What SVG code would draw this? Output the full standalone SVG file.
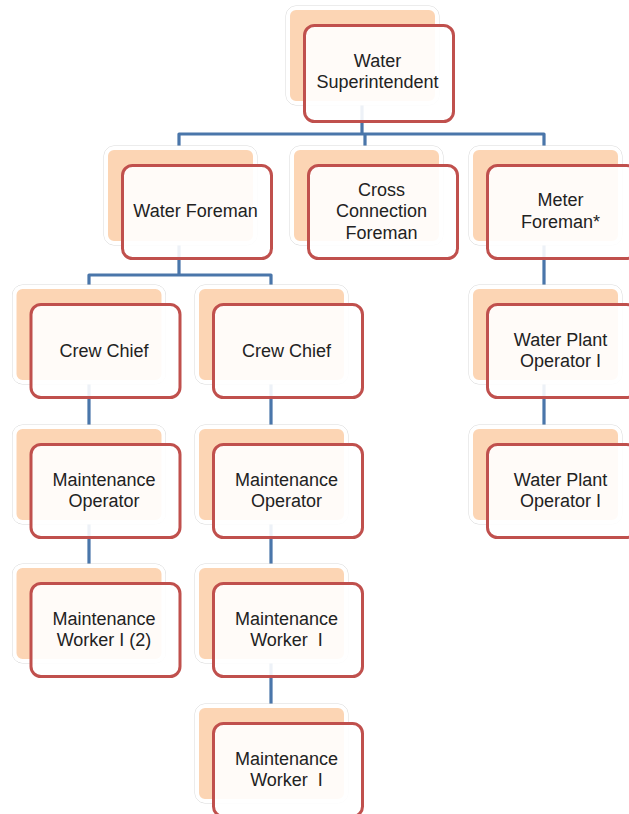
<svg xmlns="http://www.w3.org/2000/svg" width="629" height="814" viewBox="0 0 629 814">
  <style>
    .halo { fill: none; stroke: #d9d9d9; stroke-width: 1; }
    .back { fill: #fcd5b4; stroke: #ffffff; stroke-width: 4; }
    .front { fill: #ffffff; fill-opacity: 0.9; stroke: #c0504d; stroke-width: 3; }
    .label { font-family: "Liberation Sans", Arial, sans-serif; font-size: 18px; fill: #222222; text-anchor: middle; }
    .link { fill: none; stroke: #4a76aa; stroke-width: 3.2; stroke-linejoin: round; }
  </style>
  <defs>
    <!-- one org-chart card: peach backing card + white front card -->
    <g id="card">
      <rect class="halo" x="-18.5" y="-19.5" width="153" height="99" rx="10"/>
      <rect class="back" x="-16.5" y="-17.5" width="149" height="95" rx="8"/>
    </g>
  </defs>

  <!-- connectors -->
  <g id="connectors">
    <path class="link" d="M362 101 V134 M179 147.5 V134 H544 V147.5 M365 134 V147.5"/>
    <path class="link" d="M179 241.5 V275 M89 286.5 V275 H271 V286.5"/>
    <path class="link" d="M89 380.5 V426 M89 520.5 V565.5"/>
    <path class="link" d="M271 380.5 V426 M271 520.5 V565.5 M271 659.5 V705.5"/>
    <path class="link" d="M544 241.5 V286.5 M544 380.5 V426"/>
  </g>

  <g id="water-superintendent" transform="translate(304.5 25.5)">
    <use href="#card"/>
    <rect class="front" width="149" height="96" rx="10"/>
    <text class="label" x="73" y="41">Water</text>
    <text class="label" x="73" y="62">Superintendent</text>
  </g>

  <g id="water-foreman" transform="translate(122.5 165.5)">
    <use href="#card"/>
    <rect class="front" width="149" height="93" rx="10"/>
    <text class="label" x="73" y="51">Water Foreman</text>
  </g>

  <g id="cross-connection-foreman" transform="translate(308.5 165.5)">
    <use href="#card"/>
    <rect class="front" width="149" height="93" rx="10"/>
    <text class="label" x="73" y="30">Cross</text>
    <text class="label" x="73" y="51.5">Connection</text>
    <text class="label" x="73" y="73">Foreman</text>
  </g>

  <g id="meter-foreman" transform="translate(487.5 165.5)">
    <use href="#card"/>
    <rect class="front" width="149" height="93" rx="10"/>
    <text class="label" x="73" y="40.5">Meter</text>
    <text class="label" x="73" y="62">Foreman*</text>
  </g>

  <g id="crew-chief-1" transform="translate(31 304.5)">
    <use href="#card"/>
    <rect class="front" width="149" height="93" rx="10"/>
    <text class="label" x="73" y="52">Crew Chief</text>
  </g>

  <g id="crew-chief-2" transform="translate(213.5 304.5)">
    <use href="#card"/>
    <rect class="front" width="149" height="93" rx="10"/>
    <text class="label" x="73" y="52">Crew Chief</text>
  </g>

  <g id="water-plant-operator-1" transform="translate(487.5 304.5)">
    <use href="#card"/>
    <rect class="front" width="149" height="93" rx="10"/>
    <text class="label" x="73" y="41">Water Plant</text>
    <text class="label" x="73" y="62.5">Operator I</text>
  </g>

  <g id="maintenance-operator-1" transform="translate(31 444.5)">
    <use href="#card"/>
    <rect class="front" width="149" height="93" rx="10"/>
    <text class="label" x="73" y="41">Maintenance</text>
    <text class="label" x="73" y="62.5">Operator</text>
  </g>

  <g id="maintenance-operator-2" transform="translate(213.5 444.5)">
    <use href="#card"/>
    <rect class="front" width="149" height="93" rx="10"/>
    <text class="label" x="73" y="41">Maintenance</text>
    <text class="label" x="73" y="62.5">Operator</text>
  </g>

  <g id="water-plant-operator-2" transform="translate(487.5 444.5)">
    <use href="#card"/>
    <rect class="front" width="149" height="93" rx="10"/>
    <text class="label" x="73" y="41">Water Plant</text>
    <text class="label" x="73" y="62.5">Operator I</text>
  </g>

  <g id="maintenance-worker-1" transform="translate(31 583.5)">
    <use href="#card"/>
    <rect class="front" width="149" height="93" rx="10"/>
    <text class="label" x="73" y="41">Maintenance</text>
    <text class="label" x="73" y="62.5">Worker I (2)</text>
  </g>

  <g id="maintenance-worker-2" transform="translate(213.5 583.5)">
    <use href="#card"/>
    <rect class="front" width="149" height="93" rx="10"/>
    <text class="label" x="73" y="41">Maintenance</text>
    <text class="label" x="73" y="62.5">Worker&#160; I</text>
  </g>

  <g id="maintenance-worker-3" transform="translate(213.5 723.5)">
    <use href="#card"/>
    <rect class="front" width="149" height="93" rx="10"/>
    <text class="label" x="73" y="41">Maintenance</text>
    <text class="label" x="73" y="62.5">Worker&#160; I</text>
  </g>
</svg>
